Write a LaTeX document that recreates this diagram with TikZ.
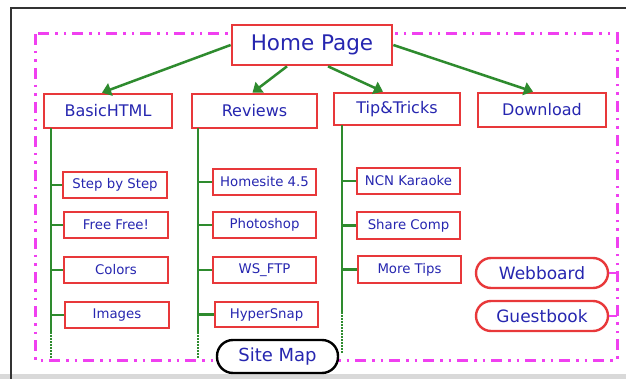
\documentclass[tikz,border=0pt]{standalone}
\usepackage{fontspec}
\setmainfont{DejaVu Sans}
\usetikzlibrary{arrows.meta,calc}
\definecolor{boxred}{HTML}{E8383A}
\definecolor{txtblue}{HTML}{2626B0}
\definecolor{lgreen}{HTML}{2E8B2E}
\definecolor{mag}{HTML}{F040F0}
\tikzset{
  redbox/.style={draw=boxred, line width=2.7pt, fill=white, text=txtblue, inner sep=0pt},
  topbox/.style={redbox, minimum width=126pt, minimum height=34pt, font=\fontsize{16}{16}\selectfont},
  kidbox/.style={redbox, minimum width=103pt, minimum height=26pt, font=\fontsize{13.3}{13.3}\selectfont},
  pillbox/.style={draw=boxred, line width=2.4pt, fill=white, text=txtblue, rounded corners=15pt, minimum width=132pt, minimum height=30pt, font=\fontsize{17}{17}\selectfont},
  gline/.style={draw=lgreen, line width=2.5pt},
  gdot/.style={draw=lgreen, line width=2.5pt, dash pattern=on 1.5pt off 1.5pt},
  garrow/.style={draw=lgreen, line width=2.5pt, -{Triangle[length=9pt,width=13pt]}},
  magline/.style={draw=mag, line width=3pt, dash pattern=on 11pt off 6pt on 2.5pt off 6pt on 2.5pt off 6pt},
}
\begin{document}
\begin{tikzpicture}[x=1pt,y=-1pt]
\useasboundingbox (0,0) rectangle (626,379);
% outer frame
\fill[white] (0,0) rectangle (626,379);
\fill[black!15] (0,374) rectangle (626,379);
\draw[black!80, line width=1.6pt] (11,379) -- (11,8) -- (626,8);
% magenta dash-dot frame
\draw[magline] (35,34) rectangle (617,360);

% nodes
\node[redbox, minimum width=160pt, minimum height=40pt, font=\fontsize{21.5}{21.5}\selectfont] (home) at (312,45) {Home Page};
\node[topbox, minimum width=128pt] (basic) at (108,111) {BasicHTML};
\node[topbox, minimum width=125pt] (reviews) at (254.5,111) {Reviews};
\node[topbox, minimum height=32pt] (tips) at (397,109) {Tip\&Tricks};
\node[topbox, minimum width=128pt] (download) at (542,110) {Download};

\node[kidbox, minimum width=104pt] (step) at (115,185) {Step by Step};
\node[kidbox, minimum width=104pt] (free) at (116,225) {Free Free!};
\node[kidbox, minimum width=104pt] (colors) at (116,270) {Colors};
\node[kidbox, minimum width=104pt] (images) at (117,315) {Images};

\node[kidbox] (homesite) at (264.5,182) {Homesite 4.5};
\node[kidbox] (photoshop) at (264.5,225) {Photoshop};
\node[kidbox] (wsftp) at (264.5,270) {WS\_FTP};
\node[kidbox, minimum height=25pt] (hypersnap) at (266.5,314.5) {HyperSnap};

\node[kidbox] (ncn) at (408.5,181) {NCN Karaoke};
\node[kidbox, minimum height=27pt] (share) at (408.5,225.5) {Share Comp};
\node[kidbox, minimum height=27pt] (more) at (409.5,269.5) {More Tips};

\node[pillbox] (webboard) at (542,273) {Webboard};
\node[pillbox] (guestbook) at (542,316) {Guestbook};
\coordinate (wbr) at (617,273);
\coordinate (gbr) at (617,316);
\draw[draw=mag, line width=2.4pt] (webboard.east) -- (wbr);
\draw[draw=mag, line width=2.4pt] (guestbook.east) -- (gbr);

\node[draw=black, line width=2.4pt, fill=white, text=txtblue, rounded corners=16pt, minimum width=121pt, minimum height=33pt, font=\fontsize{18}{18}\selectfont] (sitemap) at (277.5,356.5) {Site Map};

% arrows
\draw[garrow] (home.west) -- ([xshift=-6pt]basic.north);
\draw[garrow] ([xshift=-25pt]home.south) -- ([xshift=-2pt]reviews.north);
\draw[garrow] ([xshift=16pt]home.south) -- ([xshift=-14pt]tips.north);
\draw[garrow] (home.east) -- ([xshift=-9pt]download.north);

% green trees
\coordinate (bt) at (51,128); \coordinate (bm) at (51,332); \coordinate (bb) at (51,358);
\draw[gline] (bt) -- (bm); \draw[gdot] (bm) -- (bb);
\foreach \n in {step,free,colors,images} \draw[gline] (\n.west -| bt) -- (\n.west);

\coordinate (rt) at (198,128); \coordinate (rm) at (198,332); \coordinate (rb) at (198,358);
\draw[gline] (rt) -- (rm); \draw[gdot] (rm) -- (rb);
\foreach \n in {homesite,photoshop,wsftp,hypersnap} \draw[gline] (\n.west -| rt) -- (\n.west);

\coordinate (tt) at (342,125); \coordinate (tm) at (342,312); \coordinate (tb) at (342,354);
\draw[gline] (tt) -- (tm); \draw[gdot] (tm) -- (tb);
\foreach \n in {ncn,share,more} \draw[gline] (\n.west -| tt) -- (\n.west);
\end{tikzpicture}
\end{document}
